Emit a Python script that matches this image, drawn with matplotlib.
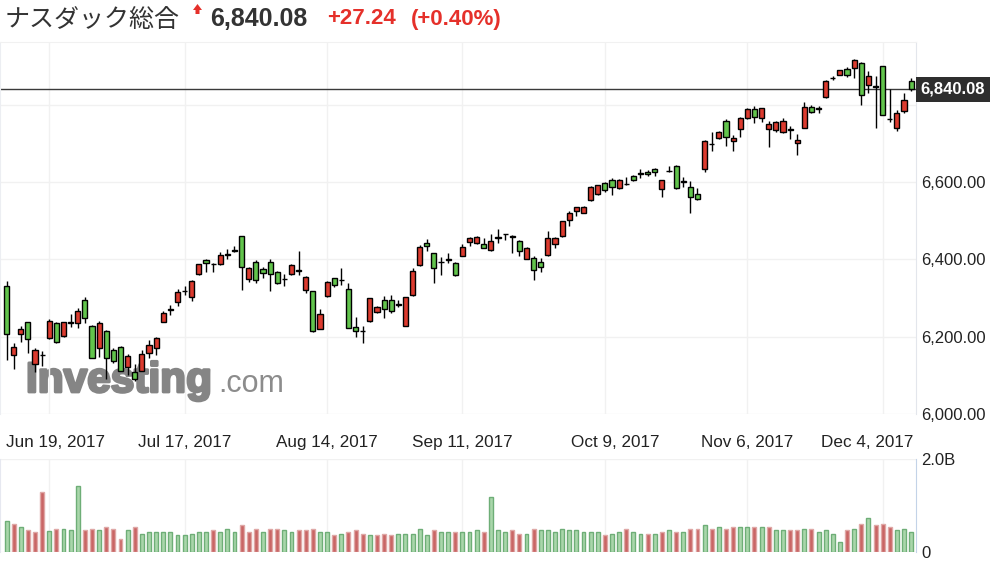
import numpy as np
import pandas as pd
import matplotlib
matplotlib.use("Agg")
import matplotlib.pyplot as plt
import matplotlib.patheffects as pe
from matplotlib.patches import Polygon
from matplotlib.transforms import ScaledTranslation, blended_transform_factory, Affine2D

plt.rcParams['font.family'] = ['Liberation Sans', 'Noto Sans CJK JP', 'DejaVu Sans']

# ---------------- data ----------------
title_name = "ナスダック総合"
last_price = 6840.08
change = "+27.24"
change_pct = "(+0.40%)"

dates = pd.bdate_range("2017-06-09", "2017-12-08",
                       freq="C", holidays=["2017-07-04", "2017-09-04", "2017-11-23"])

opens = [6332, 6153, 6206, 6237, 6129, 6153, 6197, 6235, 6202, 6236,
         6235, 6295, 6228, 6172, 6215, 6166, 6174, 6122, 6108, 6112,
         6157, 6172, 6239, 6268, 6289, 6317, 6303, 6362, 6398, 6389,
         6388, 6412, 6425, 6460, 6349, 6394, 6374, 6394, 6368, 6349,
         6361, 6373, 6321, 6318, 6221, 6306, 6351, 6348, 6323, 6224,
         6215, 6241, 6265, 6295, 6295, 6283, 6228, 6308, 6385, 6443,
         6416, 6393, 6399, 6391, 6410, 6446, 6442, 6439, 6424, 6456,
         6467, 6460, 6448, 6401, 6403, 6394, 6411, 6439, 6461, 6502,
         6525, 6521, 6554, 6568, 6597, 6605, 6586, 6595, 6616, 6622,
         6626, 6634, 6582, 6630, 6642, 6601, 6588, 6568, 6634, 6699,
         6715, 6759, 6707, 6737, 6765, 6788, 6765, 6737, 6735, 6729,
         6737, 6700, 6741, 6795, 6790, 6819, 6869, 6877, 6892, 6894,
         6909, 6851, 6848, 6900, 6763, 6739, 6784, 6862]
highs = [6345, 6184, 6228, 6238, 6171, 6163, 6245, 6237, 6239, 6258,
         6273, 6304, 6230, 6241, 6217, 6170, 6175, 6155, 6129, 6166,
         6191, 6200, 6267, 6283, 6323, 6332, 6346, 6389, 6400, 6390,
         6418, 6426, 6435, 6461, 6381, 6398, 6381, 6400, 6369, 6361,
         6388, 6422, 6357, 6319, 6271, 6345, 6352, 6378, 6338, 6252,
         6228, 6301, 6280, 6305, 6308, 6295, 6304, 6377, 6437, 6452,
         6417, 6405, 6416, 6392, 6440, 6457, 6460, 6456, 6465, 6478,
         6467, 6462, 6449, 6431, 6410, 6403, 6473, 6458, 6500, 6526,
         6536, 6539, 6590, 6593, 6601, 6610, 6607, 6612, 6618, 6633,
         6631, 6636, 6606, 6642, 6644, 6612, 6603, 6586, 6709, 6730,
         6733, 6762, 6722, 6768, 6792, 6797, 6793, 6759, 6759, 6767,
         6745, 6724, 6808, 6799, 6797, 6865, 6874, 6891, 6899, 6918,
         6911, 6888, 6874, 6901, 6840, 6786, 6830, 6870]
lows = [6140, 6116, 6186, 6157, 6109, 6124, 6194, 6184, 6200, 6226,
        6222, 6236, 6144, 6147, 6090, 6132, 6112, 6101, 6086, 6110,
        6144, 6153, 6237, 6256, 6280, 6308, 6292, 6360, 6367, 6368,
        6385, 6400, 6420, 6321, 6342, 6340, 6351, 6318, 6336, 6332,
        6360, 6360, 6314, 6213, 6219, 6303, 6329, 6335, 6222, 6198,
        6183, 6239, 6262, 6248, 6262, 6276, 6227, 6306, 6384, 6423,
        6340, 6360, 6391, 6358, 6409, 6435, 6439, 6430, 6422, 6442,
        6450, 6417, 6410, 6400, 6347, 6368, 6410, 6429, 6459, 6486,
        6512, 6519, 6552, 6566, 6575, 6567, 6582, 6592, 6604, 6611,
        6616, 6616, 6562, 6627, 6583, 6587, 6519, 6554, 6627, 6680,
        6712, 6693, 6681, 6716, 6763, 6752, 6756, 6690, 6730, 6727,
        6712, 6670, 6739, 6780, 6780, 6818, 6864, 6876, 6871, 6869,
        6799, 6830, 6739, 6773, 6756, 6732, 6780, 6837]
closes = [6206, 6174, 6220, 6194, 6166, 6152, 6240, 6186, 6237, 6237,
          6266, 6248, 6144, 6236, 6144, 6138, 6112, 6150, 6091, 6154,
          6178, 6196, 6262, 6272, 6316, 6318, 6344, 6387, 6390, 6388,
          6411, 6413, 6423, 6380, 6377, 6347, 6364, 6363, 6338, 6350,
          6385, 6371, 6354, 6215, 6258, 6341, 6334, 6346, 6223, 6216,
          6214, 6299, 6278, 6271, 6267, 6284, 6302, 6370, 6431, 6435,
          6377, 6394, 6400, 6360, 6431, 6456, 6459, 6430, 6448, 6457,
          6465, 6458, 6423, 6429, 6373, 6380, 6455, 6456, 6499, 6519,
          6535, 6536, 6588, 6592, 6580, 6587, 6605, 6594, 6605, 6623,
          6622, 6625, 6605, 6629, 6584, 6602, 6562, 6556, 6706, 6698,
          6729, 6716, 6715, 6766, 6788, 6769, 6791, 6750, 6755, 6759,
          6736, 6709, 6795, 6782, 6793, 6862, 6870, 6890, 6877, 6916,
          6825, 6874, 6847, 6774, 6762, 6780, 6812, 6840]
volumes_b = [0.67, 0.60, 0.54, 0.47, 0.43, 1.29, 0.46, 0.50, 0.50, 0.47,
             1.43, 0.47, 0.50, 0.47, 0.54, 0.50, 0.29, 0.47, 0.54, 0.39,
             0.43, 0.43, 0.43, 0.43, 0.36, 0.36, 0.39, 0.43, 0.43, 0.47,
             0.43, 0.50, 0.43, 0.57, 0.43, 0.50, 0.43, 0.50, 0.50, 0.47,
             0.43, 0.47, 0.47, 0.50, 0.43, 0.43, 0.36, 0.39, 0.43, 0.47,
             0.39, 0.36, 0.36, 0.39, 0.36, 0.39, 0.39, 0.39, 0.50, 0.36,
             0.47, 0.43, 0.43, 0.43, 0.43, 0.43, 0.47, 0.43, 1.18, 0.47,
             0.43, 0.47, 0.39, 0.39, 0.50, 0.47, 0.47, 0.43, 0.50, 0.47,
             0.47, 0.43, 0.43, 0.43, 0.36, 0.39, 0.43, 0.50, 0.43, 0.39,
             0.39, 0.39, 0.43, 0.47, 0.43, 0.43, 0.50, 0.50, 0.57, 0.50,
             0.54, 0.50, 0.54, 0.54, 0.54, 0.54, 0.54, 0.54, 0.47, 0.47,
             0.47, 0.47, 0.50, 0.50, 0.43, 0.47, 0.39, 0.22, 0.47, 0.50,
             0.60, 0.73, 0.57, 0.60, 0.54, 0.47, 0.50, 0.43]

tick_dates = ["2017-06-19", "2017-07-17", "2017-08-14", "2017-09-11",
              "2017-10-09", "2017-11-06", "2017-12-04"]
tick_labels = ["Jun 19, 2017", "Jul 17, 2017", "Aug 14, 2017", "Sep 11, 2017",
               "Oct 9, 2017", "Nov 6, 2017", "Dec 4, 2017"]
price_ticks = [6000, 6200, 6400, 6600, 6800]
price_tick_labels = ["6,000.00", "6,200.00", "6,400.00", "6,600.00", ""]
vol_ticks = [0, 2.0]
vol_tick_labels = ["0", "2.0B"]

# ---------------- layout ----------------
W, H = 998, 568
fig = plt.figure(figsize=(W / 100, H / 100), dpi=100)
fig.patch.set_facecolor("white")
PX = Affine2D().scale(1, -1).translate(0, H)


def rect(l, t, r, b):
    return [l / W, 1 - b / H, (r - l) / W, (b - t) / H]


ax = fig.add_axes(rect(0, 42, 916, 414))
axv = fig.add_axes(rect(0, 459, 916, 552))

o = np.array(opens, float)
h = np.array(highs, float)
l = np.array(lows, float)
c = np.array(closes, float)
v = np.array(volumes_b, float)
x = np.arange(len(dates))

UP_FILL = "#dc3b2f"
DOWN_FILL = "#62c44c"
GRID = "#f1f1f1"

xmin, xmax = -0.92, 127.68
ax.set_xlim(xmin, xmax)
axv.set_xlim(xmin, xmax)
ax.set_ylim(6000, 6962.5)
axv.set_ylim(0, 2.0)

tick_idx = [int(np.where(dates == pd.Timestamp(d))[0][0]) for d in tick_dates]

for a in (ax, axv):
    a.set_facecolor("white")
    for s in ("top", "bottom", "left"):
        a.spines[s].set_visible(False)
    a.set_xticks(tick_idx)
    a.grid(True, color=GRID, lw=1, zorder=0)
    a.set_axisbelow(True)
ax.spines["right"].set_color("#e3e6ec")
axv.spines["right"].set_color("#c3d3e8")
ax.spines["left"].set_visible(True)
ax.spines["left"].set_color("#eceef2")
axv.spines["left"].set_visible(True)
axv.spines["left"].set_color("#e6e8f0")
ax.spines["top"].set_visible(True)
ax.spines["top"].set_color(GRID)

ax.yaxis.tick_right()
ax.set_yticks(price_ticks)
ax.set_yticklabels(price_tick_labels)
ax.tick_params(axis="y", length=0, pad=4, labelsize=12, labelcolor="#222222")
ax.set_xticklabels(tick_labels)
ax.tick_params(axis="x", length=0, pad=15, labelsize=12.3, labelcolor="#222222")

shifts = {0: 6, 4: 10, 6: -15}
for i, lab in enumerate(ax.get_xticklabels()):
    if i in shifts:
        lab.set_transform(lab.get_transform() +
                          ScaledTranslation(shifts[i] / 100, 0, fig.dpi_scale_trans))

axv.yaxis.tick_right()
axv.set_yticks(vol_ticks)
axv.set_yticklabels(vol_tick_labels)
axv.tick_params(axis="y", length=0, pad=4, labelsize=12, labelcolor="#222222")
axv.tick_params(axis="x", length=0, labelbottom=False)

# watermark (behind the candles)
fig.text(26 / W, 1 - 392 / H, "Investing", fontsize=30.5, fontweight="bold",
         color="#858585", ha="left", va="baseline", zorder=1,
         path_effects=[pe.withStroke(linewidth=2, foreground="#858585")])
fig.text(218 / W, 1 - 392 / H, ".com", fontsize=22,
         color="#8c8c8c", ha="left", va="baseline", zorder=1)
ax.set_zorder(2)
ax.patch.set_alpha(0)

# last price line
ax.axhline(last_price, color="#3a3a3a", lw=1, zorder=2)

# candles
up = c >= o
ax.vlines(x, l, h, color="black", lw=1, zorder=3)
bottoms = np.minimum(o, c)
heights = np.maximum(np.abs(c - o), 0.5)
ax.bar(x, heights, bottom=bottoms, width=0.72,
       color=np.where(up, UP_FILL, DOWN_FILL), edgecolor="black", lw=1, zorder=4)

# last price label box
ax.annotate(f"{last_price:,.2f}", xy=(1.0, last_price),
            xycoords=blended_transform_factory(ax.transAxes, ax.transData),
            xytext=(3.5, 0), textcoords="offset points", ha="left", va="center",
            fontsize=12, fontweight="bold", color="white", zorder=10,
            annotation_clip=False,
            bbox=dict(boxstyle="square,pad=0.3", fc="#2e2e2e", ec="none"))

# volume bars, coloured by close-to-close change
prev = np.concatenate([[c[0] - 1], c[:-1]])
vup = c >= prev
axv.bar(x, v, width=0.55,
        color=np.where(vup, "#a9d6aa", "#c96565"),
        edgecolor=np.where(vup, "#6eae77", "#dfa8a6"), lw=1, zorder=3)

# header
fig.text(5 / W, 1 - 20 / H, title_name, fontsize=18, color="#333333",
         ha="left", va="center", family=["Noto Sans CJK JP", "DejaVu Sans"])
arrow = Polygon([[193, 10], [197.5, 4], [202, 10], [199.5, 10], [199.5, 14],
                 [195.5, 14], [195.5, 10]], closed=True, fc="#e5302a", ec="none")
arrow.set_transform(PX)
fig.add_artist(arrow)
fig.text(210 / W, 1 - 19 / H, f"{last_price:,.2f}", fontsize=18, fontweight="bold",
         color="#333333", ha="left", va="center")
fig.text(327 / W, 1 - 19 / H, change, fontsize=16, fontweight="bold",
         color="#e5302a", ha="left", va="center")
fig.text(411 / W, 1 - 19 / H, change_pct, fontsize=16, fontweight="bold",
         color="#e5302a", ha="left", va="center")

fig.savefig("out.png", dpi=100)
